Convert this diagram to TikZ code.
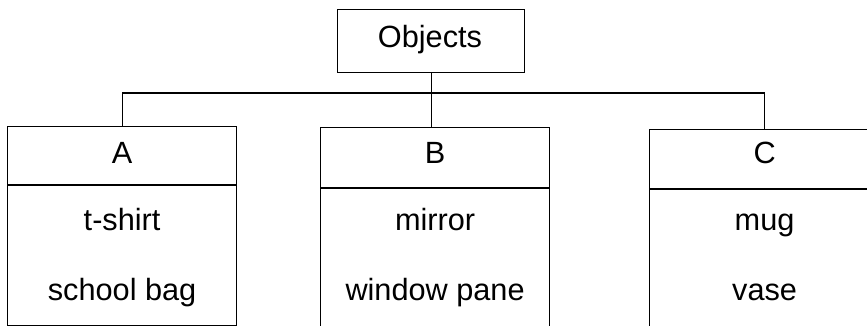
\documentclass[tikz,border=0pt]{standalone}
\usepackage{fontspec}
\setmainfont{Liberation Sans}
\begin{document}
\begin{tikzpicture}[x=1pt,y=-1pt,
  line width=1.2pt,
  box/.style={draw, rectangle, inner sep=0pt, anchor=north west},
  lbl/.style={font=\fontsize{30.7}{33}\selectfont, inner sep=0pt, anchor=base},
  conn/.style={draw, line width=1.2pt}]
\useasboundingbox (0,0) rectangle (867,326);
% root
\node[box, minimum width=187, minimum height=63] (O) at (337,9) {};
\node[lbl] (Ot) at (430,48) {Objects};
% group A
\node[box, minimum width=229, minimum height=58] (Ah) at (7,126) {};
\node[box, minimum width=229, minimum height=140] (Ab) at (Ah.south west) {};
\node[lbl] (At) at (Ah.center |- 0,164) {A};
\node[lbl] (A1) at (Ah.center |- 0,230) {t-shirt};
\node[lbl] (A2) at (Ah.center |- 0,300) {school bag};
% group B
\node[box, minimum width=229, minimum height=60] (Bh) at (320,127) {};
\node[box, minimum width=229, minimum height=138] (Bb) at (Bh.south west) {};
\node[lbl] (Bt) at (Bh.center |- 0,164) {B};
\node[lbl] (B1) at (Bh.center |- 0,230) {mirror};
\node[lbl] (B2) at (Bh.center |- 0,300) {window pane};
% group C
\node[box, minimum width=230, minimum height=59] (Ch) at (649,129) {};
\node[box, minimum width=230, minimum height=137] (Cb) at (Ch.south west) {};
\node[lbl] (Ct) at (Ch.center |- 0,164) {C};
\node[lbl] (C1) at (Ch.center |- 0,230) {mug};
\node[lbl] (C2) at (Ch.center |- 0,300) {vase};
% connectors
\coordinate (barA) at (Ah.north |- 0,93);
\coordinate (barC) at (Ch.north |- 0,93);
\draw[conn] (Ah.north) -- (barA) -- (barC) -- (Ch.north);
\draw[conn] (O.south) -- (O.south |- Bh.north);
\end{tikzpicture}
\end{document}
